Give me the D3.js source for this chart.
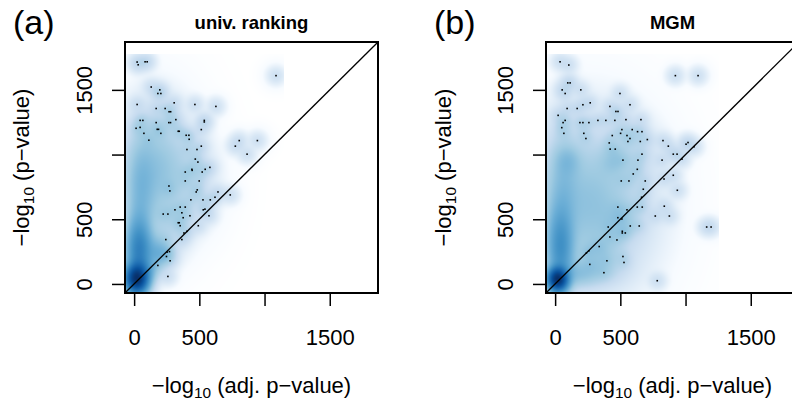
<!DOCTYPE html>
<html><head><meta charset="utf-8">
<script src="https://cdn.jsdelivr.net/npm/d3@7"></script>
<style>body{margin:0;background:#fff} svg{display:block}</style>
</head><body>
<svg id="chart" width="792" height="405"></svg>
<script>
// ---------------- data ----------------
const tickValues = [0, 500, 1000, 1500];
const tickLabels = ["0", "500", "", "1500"];
const panelLetters = ["(a)", "(b)"];
const panelTitles = ["univ. ranking", "MGM"];
const axisDomain = [-70, 1870];

// panel (a): outlying points (x = -log10 adj. p, y = -log10 p)
const ptsAx = [23,31,84,100,1088,131,197,182,205,23,307,466,627,169,238,268,280,46,67,320,538,538,169,266,279,15,46,177,187,515,75,205,338,346,399,420,422,113,806,945,515,776,405,482,866,469,489,581,443,545,
392,445,522,392,499,267,274,484,476,643,737,620,435,528,584,353,392,313,543,530,223,259,366,428,574,376,338,346,353,492,405,382,366,243,271,253,248,276,182,259];
const ptsAy = [1715,1694,1717,1717,1610,1522,1500,1472,1472,1387,1400,1387,1372,1356,1356,1331,1331,1264,1264,1270,1264,1252,1247,1247,1247,1203,1210,1195,1195,1193,1164,1164,1180,1180,1149,1149,1118,1111,1108,1108,1065,1065,1039,1039,1003,965,942,901,886,886,
865,878,865,796,796,757,719,727,711,711,688,670,650,650,650,594,594,573,578,573,540,540,550,527,527,512,473,473,450,450,407,394,343,343,250,246,212,179,143,58];
// panel (a): dense masses (centre, spread, count)
const massAx  = [20, 35, 50, 170, 90, 190, 140, 420, 250];
const massAy  = [40, 250, 700, 880, 110, 230, 300, 800, 450];
const massAsx = [30, 40, 55, 130, 45, 45, 60, 100, 80];
const massAsy = [50, 150, 240, 230, 45, 45, 60, 170, 120];
const massAn  = [520, 420, 170, 300, 45, 45, 30, 45, 30];

// panel (b)
const ptsBx = [38,105,922,1096,97,115,54,197,77,497,269,213,574,92,169,420,466,482,23,658,543,328,389,458,77,61,190,213,259,51,512,591,632,666,67,220,438,502,551,236,574,558,653,707,827,415,868,1019,1004,1065,422,461,666,906,935,520,635,820,973,630,
599,507,566,691,835,906,676,937,663,481,630,668,837,551,481,512,768,876,407,576,645,1162,1196,515,515,538,420,474,338,259,240,520,397,528,266,374,783];
const ptsBy = [1717,1692,1610,1610,1554,1554,1500,1500,1472,1472,1400,1385,1385,1356,1356,1372,1333,1333,1303,1270,1270,1264,1264,1264,1264,1247,1247,1247,1247,1208,1193,1193,1177,1177,1164,1164,1147,1164,1147,1124,1124,1101,1101,1116,1108,1090,1065,1093,1080,1060,1042,1042,1003,1003,1003,957,957,957,965,886,
850,796,796,796,811,840,732,724,670,594,594,594,601,573,512,502,525,525,440,448,448,440,440,407,394,394,363,340,289,256,240,212,179,166,151,87,25];
const massBx  = [20, 40, 60, 260, 100, 450, 150, 350, 500, 600, 300];
const massBy  = [35, 280, 750, 620, 950, 950, 70, 250, 500, 1000, 110];
const massBsx = [22, 45, 60, 220, 50, 60, 100, 80, 80, 100, 120];
const massBsy = [35, 180, 250, 300, 60, 60, 45, 70, 80, 120, 60];
const massBn  = [397, 380, 131, 650, 25, 25, 40, 27, 27, 25, 40];

// ---------------- drawing ----------------
const FONT = "'Liberation Sans', Arial, Helvetica, sans-serif";
const BLUES = ["#FFFFFF","#F7FBFF","#DEEBF7","#C6DBEF","#9ECAE1","#6BAED6","#4292C6","#2171B5","#08519C","#08306B"];
const ramp = d3.scaleLinear().domain(BLUES.map((c,i)=>i/(BLUES.length-1))).range(BLUES).interpolate(d3.interpolateRgb).clamp(true);
const BW = 38;          // kernel bandwidth (data units)
const POINT_WEIGHT = 2; // kernel mass of each drawn outlying point
const EXT = 60;         // density image margin beyond data range (data units)

const svg = d3.select("#chart");
const defs = svg.append("defs");

const panels = [
  {left:125, px:ptsAx, py:ptsAy, mx:massAx, my:massAy, msx:massAsx, msy:massAsy, mn:massAn, yLabX:29, letterX:13},
  {left:546, px:ptsBx, py:ptsBy, mx:massBx, my:massBy, msx:massBsx, msy:massBsy, mn:massBn, yLabX:450.5, letterX:434}
];
const TOP = 42, BOTTOM = 293, WIDTH = 253;

panels.forEach((p, k) => {
  const x = d3.scaleLinear().domain(axisDomain).range([p.left, p.left + WIDTH]);
  const y = d3.scaleLinear().domain(axisDomain).range([BOTTOM, TOP]);
  const g = svg.append("g");

  const clipId = "clip" + k;
  defs.append("clipPath").attr("id", clipId).append("rect")
    .attr("x", p.left).attr("y", TOP).attr("width", WIDTH).attr("height", BOTTOM - TOP);

  // density raster
  const dx0 = Math.min(0, d3.min(p.px)) - EXT, dx1 = d3.max(p.px) + EXT;
  const dy0 = Math.min(0, d3.min(p.py)) - EXT, dy1 = d3.max(p.py) + EXT;
  const X0 = Math.floor(x(dx0)), X1 = Math.ceil(x(dx1));
  const Y0 = Math.floor(y(dy1)), Y1 = Math.ceil(y(dy0));
  const W = X1 - X0, H = Y1 - Y0;
  const dens = new Float64Array(W * H);
  const s2 = BW * BW;
  const masses = p.mx.map((mx, i) => {
    const Sx = Math.sqrt(p.msx[i]*p.msx[i] + s2), Sy = Math.sqrt(p.msy[i]*p.msy[i] + s2);
    return {mx, my:p.my[i], Sx, Sy, c: p.mn[i] / (2*Math.PI*Sx*Sy)};
  });
  const c1 = POINT_WEIGHT / (2*Math.PI*s2);
  let dmax = 0;
  for (let j = 0; j < H; j++) {
    const vy = y.invert(Y0 + j + 0.5);
    for (let i = 0; i < W; i++) {
      const vx = x.invert(X0 + i + 0.5);
      let d = 0;
      if (vx < dx0 || vx > dx1 || vy < dy0 || vy > dy1) { dens[j*W+i] = -1; continue; }
      for (const m of masses) {
        const a = (vx - m.mx) / m.Sx, b = (vy - m.my) / m.Sy;
        d += m.c * Math.exp(-0.5*(a*a + b*b));
      }
      for (let q = 0; q < p.px.length; q++) {
        const a = vx - p.px[q], b = vy - p.py[q];
        const r2 = a*a + b*b;
        if (r2 < 49*s2) d += c1 * Math.exp(-0.5*r2/s2);
      }
      dens[j*W+i] = d;
      if (d > dmax) dmax = d;
    }
  }
  const canvas = document.createElement("canvas");
  canvas.width = W; canvas.height = H;
  const ctx = canvas.getContext("2d");
  const img = ctx.createImageData(W, H);
  for (let q = 0; q < W*H; q++) {
    const d = dens[q];
    let col = {r:255,g:255,b:255}, alpha = 0;
    if (d >= 0) { col = d3.rgb(ramp(Math.pow(d/dmax, 0.25))); alpha = 255; }
    img.data[4*q] = col.r; img.data[4*q+1] = col.g; img.data[4*q+2] = col.b; img.data[4*q+3] = alpha;
  }
  ctx.putImageData(img, 0, 0);
  g.append("image").attr("x", X0).attr("y", Y0).attr("width", W).attr("height", H)
    .attr("preserveAspectRatio", "none")
    .attr("href", canvas.toDataURL()).attr("clip-path", `url(#${clipId})`);

  // outlying points
  g.append("g").attr("clip-path", `url(#${clipId})`).selectAll("rect").data(p.px).join("rect")
    .attr("x", (d,i) => x(d) - 0.8).attr("y", (d,i) => y(p.py[i]) - 0.8)
    .attr("width", 1.6).attr("height", 1.6).attr("fill", "#000");

  // diagonal
  g.append("line").attr("clip-path", `url(#${clipId})`)
    .attr("x1", x(axisDomain[0])).attr("y1", y(axisDomain[0]))
    .attr("x2", x(axisDomain[1])).attr("y2", y(axisDomain[1]))
    .attr("stroke", "#000").attr("stroke-width", 1.3);

  // box
  g.append("rect").attr("x", p.left).attr("y", TOP).attr("width", WIDTH).attr("height", BOTTOM - TOP)
    .attr("fill", "none").attr("stroke", "#000").attr("stroke-width", 2);

  // axes
  const xa = g.append("g").attr("transform", `translate(0,${BOTTOM})`)
    .call(d3.axisBottom(x).tickValues(tickValues).tickSize(13).tickFormat((d,i) => tickLabels[i]));
  const ya = g.append("g").attr("transform", `translate(${p.left},0)`)
    .call(d3.axisLeft(y).tickValues(tickValues).tickSize(13).tickFormat((d,i) => tickLabels[i]));
  [xa, ya].forEach(a => {
    a.select(".domain").remove();
    a.selectAll(".tick line").attr("stroke", "#000").attr("stroke-width", 1.5);
    a.selectAll("text").attr("font-family", FONT).attr("font-size", 22).attr("fill", "#000");
  });
  xa.selectAll("text").attr("y", 52).attr("dy", 0);
  ya.selectAll("text").attr("x", 0).attr("y", 0).attr("dy", 0)
    .attr("text-anchor", "middle").attr("transform", "translate(-33,0) rotate(-90)");

  const cx = p.left + WIDTH / 2;
  // title
  g.append("text").attr("x", cx).attr("y", 29).attr("text-anchor", "middle")
    .attr("font-family", FONT).attr("font-weight", "bold").attr("font-size", 18.5).text(panelTitles[k]);
  // letter
  g.append("text").attr("x", p.letterX).attr("y", 34)
    .attr("font-family", FONT).attr("font-size", 34).text(panelLetters[k]);
  // x axis title
  const xt = g.append("text").attr("x", cx).attr("y", 393).attr("text-anchor", "middle")
    .attr("font-family", FONT).attr("font-size", 22);
  xt.append("tspan").text("\u2212log");
  xt.append("tspan").attr("font-size", 15.4).attr("dy", 5).text("10");
  xt.append("tspan").attr("dy", -5).text(" (adj. p\u2212value)");
  // y axis title
  const yt = g.append("text").attr("transform", `translate(${p.yLabX},${(TOP+BOTTOM)/2}) rotate(-90)`)
    .attr("text-anchor", "middle").attr("font-family", FONT).attr("font-size", 22);
  yt.append("tspan").text("\u2212log");
  yt.append("tspan").attr("font-size", 15.4).attr("dy", 5).text("10");
  yt.append("tspan").attr("dy", -5).text(" (p\u2212value)");
});
</script>
</body></html>
